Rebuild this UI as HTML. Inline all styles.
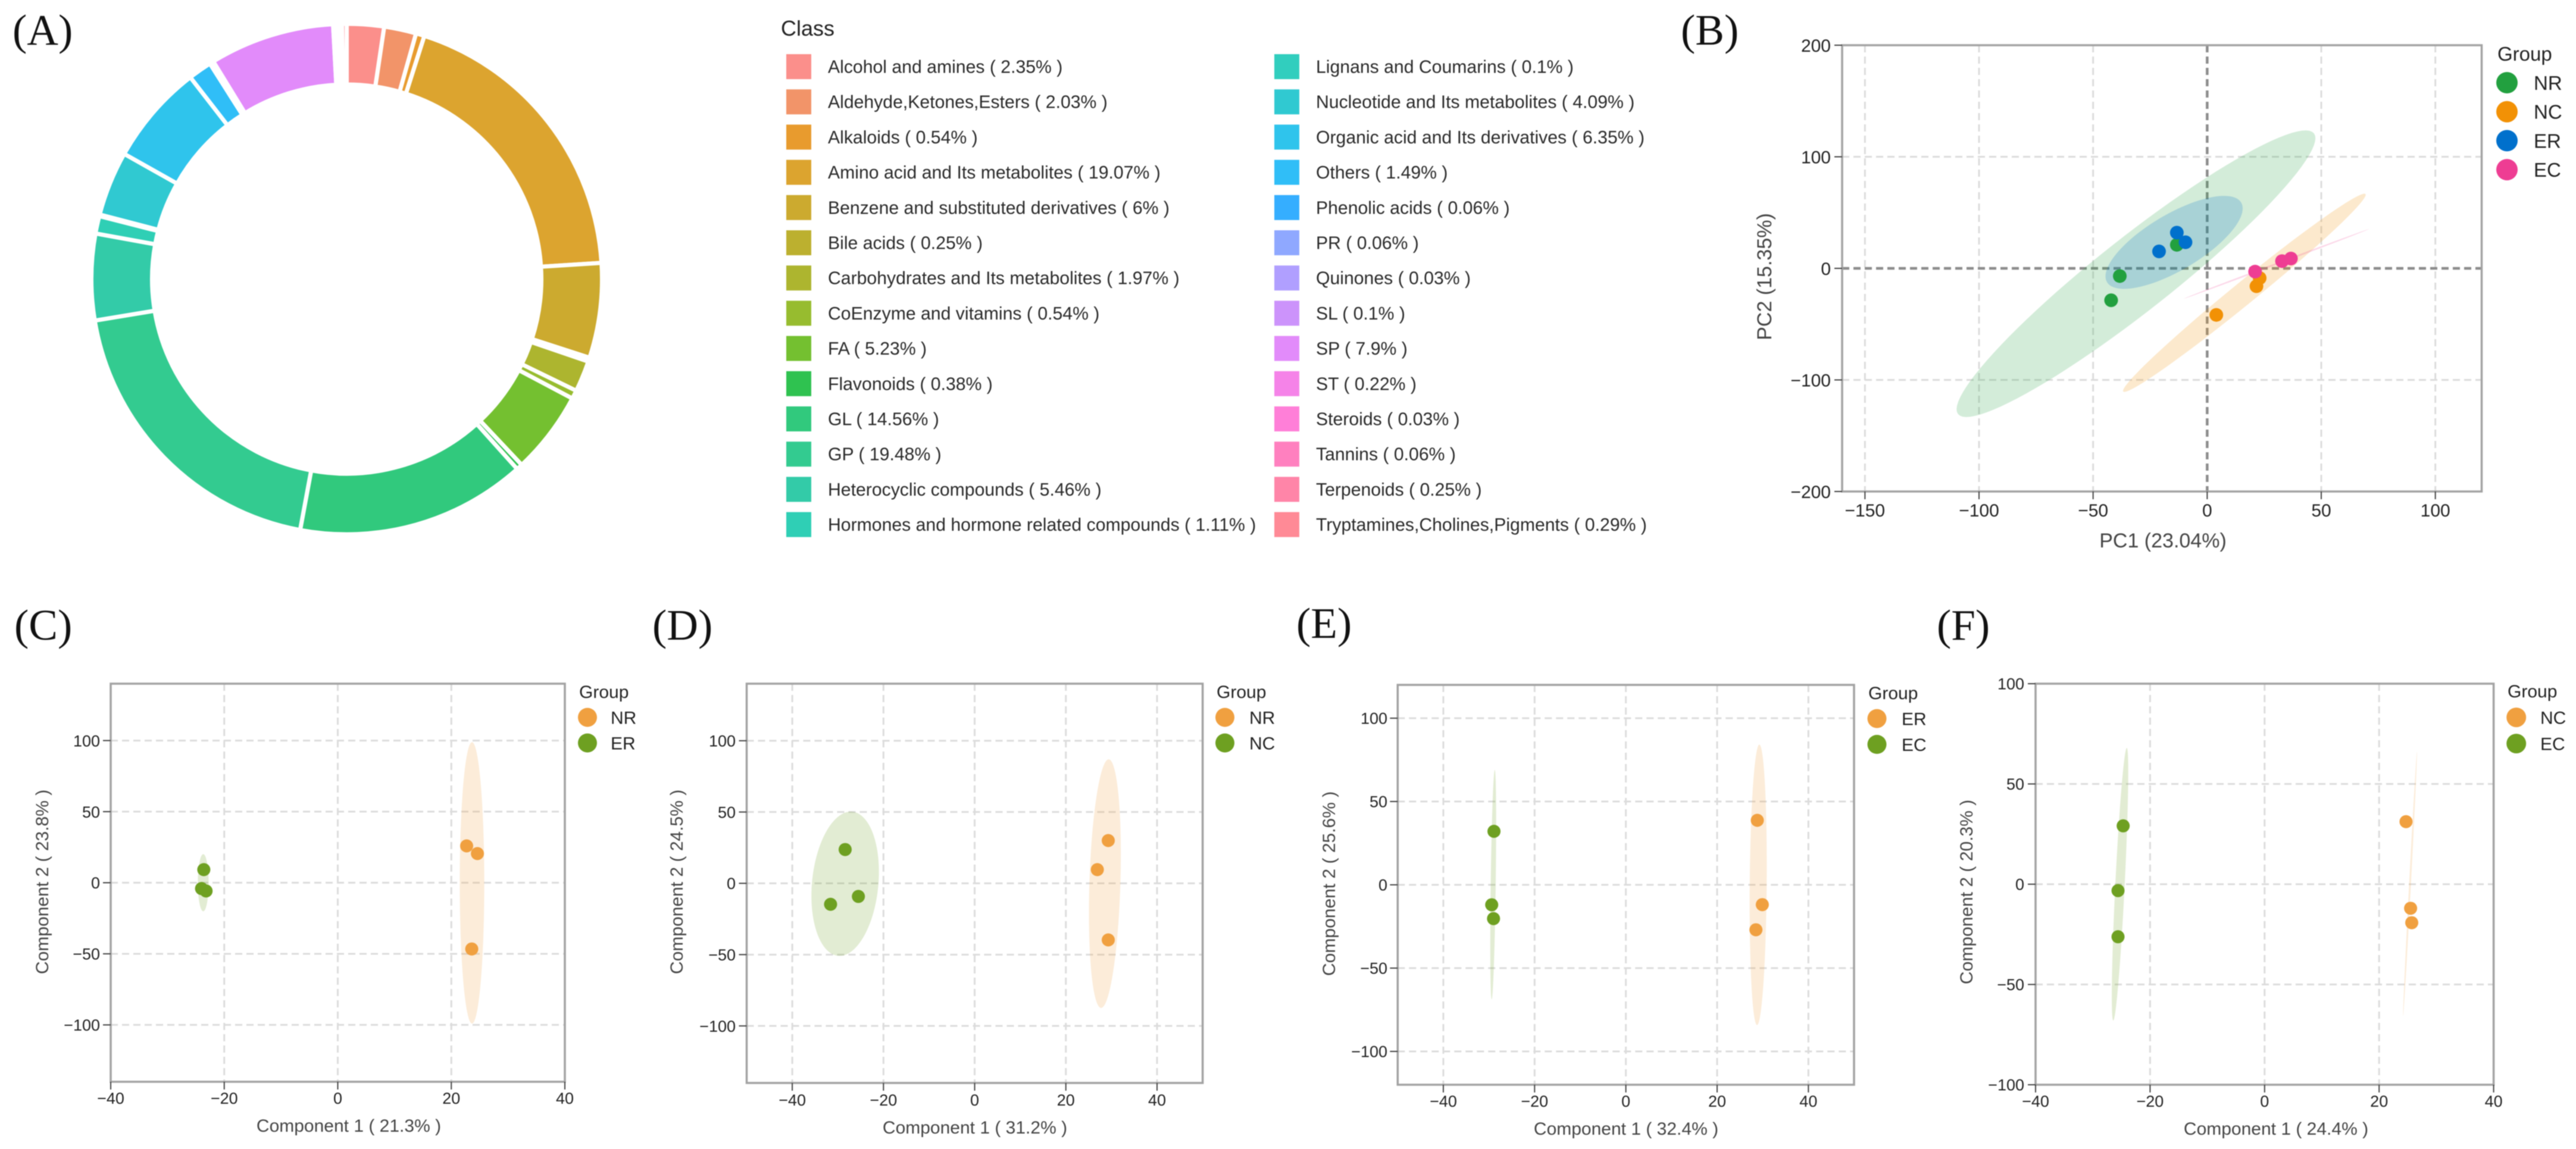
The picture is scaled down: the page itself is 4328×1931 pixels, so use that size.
<!DOCTYPE html>
<html lang="en">
<head>
<meta charset="utf-8">
<title>Metabolite class composition and PCA / PLS-DA score plots</title>
<style>
html,body{margin:0;padding:0;background:#fff;width:4328px;height:1931px;overflow:hidden}
svg{display:block;font-family:"Liberation Sans",Arial,sans-serif;filter:blur(0.8px)}
</style>
</head>
<body>
<svg id="fig" xmlns="http://www.w3.org/2000/svg" width="4328" height="1931" viewBox="0 0 4328 1931">
  <rect x="0" y="0" width="4328" height="1931" fill="#ffffff"/>
  <g font-family="'Liberation Serif',serif" font-size="73" fill="#111">
    <text x="21" y="75">(A)</text>
    <text x="2824" y="75">(B)</text>
    <text x="24" y="1075">(C)</text>
    <text x="1096" y="1075">(D)</text>
    <text x="2178" y="1072">(E)</text>
    <text x="3254" y="1075">(F)</text>
  </g>
</svg>
<script>
// ---------- Panel A data ----------
const classNames = ["Alcohol and amines","Aldehyde,Ketones,Esters","Alkaloids","Amino acid and Its metabolites","Benzene and substituted derivatives","Bile acids","Carbohydrates and Its metabolites","CoEnzyme and vitamins","FA","Flavonoids","GL","GP","Heterocyclic compounds","Hormones and hormone related compounds","Lignans and Coumarins","Nucleotide and Its metabolites","Organic acid and Its derivatives","Others","Phenolic acids","PR","Quinones","SL","SP","ST","Steroids","Tannins","Terpenoids","Tryptamines,Cholines,Pigments"];
const classPercents = [2.35,2.03,0.54,19.07,6,0.25,1.97,0.54,5.23,0.38,14.56,19.48,5.46,1.11,0.1,4.09,6.35,1.49,0.06,0.06,0.03,0.1,7.9,0.22,0.03,0.06,0.25,0.29];
const classPalette = ["#fb8f8b","#f29469","#e89b2e","#dca42f","#ccaa2f","#bcb02f","#adb52f","#97bc2f","#74c030","#2fc250","#31c97d","#33cb90","#33cba8","#2fcfb5","#31cebe","#30c9d1","#2fc4ec","#30bef7","#35aeff","#8fa8ff","#b09fff","#cc93fb","#e28bfa","#f583e8","#ff7fd8","#ff80bf","#ff85a8","#ff8a96"];

// ---------- Panel B data (PC1, PC2) ----------
const bXTicks = [-150,-100,-50,0,50,100];
const bYTicks = [-200,-100,0,100,200];
const bNRx = [-13.3,-38.3,-42.1];
const bNRy = [21.1,-6.9,-28.6];
const bNCx = [4,21.6,23];
const bNCy = [-41.7,-16,-8.7];
const bERx = [-13.3,-9.5,-21.1];
const bERy = [32,23.4,15.2];
const bECx = [21,32.8,36.7];
const bECy = [-2.9,6.5,8.8];
// ellipses: centre x, centre y, major-axis x, major-axis y, minor-axis x, minor-axis y (data units)
const bNREllipse = [-31.2,-4.8,78,125.8,10,-26];
const bNCEllipse = [16.3,-21.9,53.1,88.5,3.1,-7.8];
const bEREllipse = [-14.5,23.3,29.4,35.7,6.3,-21.5];
const bECEllipse = [30.3,4,40.6,31.2,0.13,-0.75];

// ---------- Panel C data ----------
const cXTicks = [-40,-20,0,20,40];
const cYTicks = [-100,-50,0,50,100];
const cNRx = [22.7,24.6,23.6];
const cNRy = [25.9,20.5,-46.6];
const cERx = [-23.6,-24,-23.2];
const cERy = [9.2,-4.1,-5.8];
const cNREllipse = [23.65,-0.1,0,99,2.16,0];
const cEREllipse = [-23.7,0,0,20.1,0.95,0];

// ---------- Panel D data ----------
const dXTicks = [-40,-20,0,20,40];
const dYTicks = [-100,-50,0,50,100];
const dNRx = [29.3,26.9,29.3];
const dNRy = [30,9.6,-39.7];
const dNCx = [-28.4,-25.5,-31.6];
const dNCy = [23.7,-9.2,-14.7];
const dNREllipse = [28.56,-0.2,0.83,87.2,3.4,0];
const dNCEllipse = [-28.4,-0.3,1.23,50.6,7.3,0];

// ---------- Panel E data ----------
const eXTicks = [-40,-20,0,20,40];
const eYTicks = [-100,-50,0,50,100];
const eERx = [28.8,29.9,28.5];
const eERy = [38.7,-11.9,-27];
const eECx = [-28.9,-29.4,-29];
const eECy = [32.1,-12,-20.3];
const eEREllipse = [29,0,0.25,84.2,1.86,0];
const eECEllipse = [-29.07,0.1,0.34,68.9,0.55,0];

// ---------- Panel F data ----------
const fXTicks = [-40,-20,0,20,40];
const fYTicks = [-100,-50,0,50,100];
const fNCx = [24.7,25.5,25.7];
const fNCy = [31.2,-12,-19.2];
const fECx = [-24.7,-25.6,-25.6];
const fECy = [29.1,-3.2,-26.2];
const fNCEllipse = [25.4,0.15,1.21,65.9,0.16,0];
const fECEllipse = [-25.25,0,1.18,68,0.82,0];

// ---------- Drawing ----------
const svg = document.getElementById('fig');
const NS = 'http://www.w3.org/2000/svg';
function make(parent, tag, attrs, text) {
  const el = document.createElementNS(NS, tag);
  for (const k in attrs) el.setAttribute(k, attrs[k]);
  if (text !== undefined) el.textContent = text;
  parent.appendChild(el);
  return el;
}
const fmt = v => String(v).replace('-', '\u2212');

function drawDonut() {
  const cx = 582.5, cy = 469, rOut = 429, rIn = 327;
  const total = classPercents.reduce((a, b) => a + b, 0);
  const g = make(svg, 'g', {});
  
  
  let acc = 0;
  classPercents.forEach((v, i) => {
    const a0 = acc / total * 2 * Math.PI;
    acc += v;
    const a1 = acc / total * 2 * Math.PI;
    const large = (a1 - a0) > Math.PI ? 1 : 0;
    const p = (r, a) => (cx + r * Math.sin(a)).toFixed(2) + ' ' + (cy - r * Math.cos(a)).toFixed(2);
    const d = 'M' + p(rOut, a0) + 'A' + rOut + ' ' + rOut + ' 0 ' + large + ' 1 ' + p(rOut, a1) +
              'L' + p(rIn, a1) + 'A' + rIn + ' ' + rIn + ' 0 ' + large + ' 0 ' + p(rIn, a0) + 'Z';
    const seg = make(g, 'path', {d: d, fill: classPalette[i], stroke: '#fff', 'stroke-width': 7});
    
    
  });
}

function drawClassLegend() {
  const g = make(svg, 'g', {});
  
  
  const title = make(g, 'text', {x: 1312, y: 60, 'font-size': 36, fill: '#222'}, 'Class');
  
  
  classNames.forEach((name, i) => {
    const col = i < 14 ? 0 : 1;
    const row = i % 14;
    const sx = col ? 2141 : 1321;
    const tx = col ? 2211 : 1391;
    const y = 91 + row * 59.2;
    const sw = make(g, 'rect', {x: sx, y: y, width: 42, height: 42, fill: classPalette[i]});
    
    
    const t = make(g, 'text', {x: tx, y: y + 31.5, 'font-size': 30.2, fill: '#2a2a2a'}, name + ' ( ' + classPercents[i] + '% )');
    
    
  });
}

function drawPanel(cfg) {
  const g = make(svg, 'g', {});
  
  
  const b = cfg.box;
  const X = v => b.l + (v - cfg.xDom[0]) / (cfg.xDom[1] - cfg.xDom[0]) * (b.r - b.l);
  const Y = v => b.b - (v - cfg.yDom[0]) / (cfg.yDom[1] - cfg.yDom[0]) * (b.b - b.t);

  // grid
  cfg.xTicks.forEach(v => {
    if (X(v) <= b.l + 1 || X(v) >= b.r - 1) return;
    const zero = cfg.zeroLines && v === 0;
    const l = make(g, 'line', {x1: X(v), x2: X(v), y1: b.t, y2: b.b, stroke: zero ? '#8c8c8c' : '#dcdcdc', 'stroke-width': zero ? 4.5 : 3, 'stroke-dasharray': '12 7'});
    
    
  });
  cfg.yTicks.forEach(v => {
    if (Y(v) <= b.t + 1 || Y(v) >= b.b - 1) return;
    const zero = cfg.zeroLines && v === 0;
    const l = make(g, 'line', {x1: b.l, x2: b.r, y1: Y(v), y2: Y(v), stroke: zero ? '#8c8c8c' : '#dcdcdc', 'stroke-width': zero ? 4.5 : 3, 'stroke-dasharray': '12 7'});
    
    
  });

  // ellipses
  cfg.series.forEach(s => {
    const e = s.ellipse;
    let d = '';
    for (let i = 0; i < 96; i++) {
      const t = i / 96 * 2 * Math.PI;
      const ex = e[0] + e[2] * Math.cos(t) + e[4] * Math.sin(t);
      const ey = e[1] + e[3] * Math.cos(t) + e[5] * Math.sin(t);
      d += (i ? 'L' : 'M') + X(ex).toFixed(2) + ' ' + Y(ey).toFixed(2);
    }
    const el = make(g, 'path', {d: d + 'Z', fill: s.color, 'fill-opacity': cfg.ellipseOpacity});
    
    
  });

  // points
  cfg.series.forEach(s => {
    s.x.forEach((vx, i) => {
      const c = make(g, 'circle', {cx: X(vx), cy: Y(s.y[i]), r: cfg.pointR, fill: s.color});
      
      
    });
  });

  // frame
  const fr = make(g, 'rect', {x: b.l, y: b.t, width: b.r - b.l, height: b.b - b.t, fill: 'none', stroke: '#a2a2a2', 'stroke-width': 3.5});
  
  

  // ticks + labels
  cfg.xTicks.forEach(v => {
    const tk = make(g, 'line', {x1: X(v), x2: X(v), y1: b.b, y2: b.b + 13, stroke: '#444', 'stroke-width': 2});
    
    
    const t = make(g, 'text', {x: X(v), y: cfg.xLabelY, 'font-size': cfg.tickSize, 'text-anchor': 'middle', fill: '#222'}, fmt(v));
    
    
  });
  cfg.yTicks.forEach(v => {
    const tk = make(g, 'line', {x1: b.l - 13, x2: b.l, y1: Y(v), y2: Y(v), stroke: '#444', 'stroke-width': 2});
    
    
    const t = make(g, 'text', {x: cfg.yLabelX, y: Y(v) + cfg.tickSize * 0.36, 'font-size': cfg.tickSize, 'text-anchor': 'end', fill: '#222'}, fmt(v));
    
    
  });

  // axis titles
  const xt = make(g, 'text', {x: cfg.xTitle[1], y: cfg.xTitle[2], 'font-size': cfg.titleSize, 'text-anchor': 'middle', fill: '#444'}, cfg.xTitle[0]);
  
  
  const yt = make(g, 'text', {x: 0, y: 0, 'font-size': cfg.titleSize, 'text-anchor': 'middle', fill: '#444', transform: 'translate(' + cfg.yTitle[1] + ' ' + cfg.yTitle[2] + ') rotate(-90)'}, cfg.yTitle[0]);
  
  

  // legend
  const lg = make(g, 'g', {});
  
  
  const L = cfg.legend;
  const lt = make(lg, 'text', {x: L.titleX, y: L.titleY, 'font-size': L.size, fill: '#222'}, 'Group');
  
  
  cfg.series.forEach((s, i) => {
    const y = L.y0 + i * L.step;
    const c = make(lg, 'circle', {cx: L.dotX, cy: y, r: L.r, fill: s.color});
    
    
    const t = make(lg, 'text', {x: L.textX, y: y + L.size * 0.36, 'font-size': L.size, fill: '#222'}, s.label);
    
    
  });
}

drawDonut();
drawClassLegend();

const ORANGE = '#f0a040', GREEN = '#6ea021';

drawPanel({
  name: 'pca-score-plot-b', box: {l: 3095, r: 4169.5, t: 76, b: 826}, xDom: [-160, 120.3], yDom: [-200, 200],
  xTicks: bXTicks, yTicks: bYTicks, zeroLines: true, ellipseOpacity: 0.2, pointR: 11.5,
  xLabelY: 868, yLabelX: 3076, tickSize: 30, titleSize: 34,
  xTitle: ['PC1 (23.04%)', 3634, 920], yTitle: ['PC2 (15.35%)', 2976, 465],
  legend: {titleX: 4196, titleY: 102, size: 33, dotX: 4212, textX: 4257, y0: 139, step: 48.7, r: 18},
  series: [
    {label: 'NR', color: '#22a03f', x: bNRx, y: bNRy, ellipse: bNREllipse},
    {label: 'NC', color: '#f29105', x: bNCx, y: bNCy, ellipse: bNCEllipse},
    {label: 'ER', color: '#0070cc', x: bERx, y: bERy, ellipse: bEREllipse},
    {label: 'EC', color: '#ee3d93', x: bECx, y: bECy, ellipse: bECEllipse}
  ]
});

drawPanel({
  name: 'score-plot-c', box: {l: 186, r: 949, t: 1149, b: 1818}, xDom: [-40, 40], yDom: [-140, 140],
  xTicks: cXTicks, yTicks: cYTicks, ellipseOpacity: 0.2, pointR: 11,
  xLabelY: 1855, yLabelX: 168, tickSize: 27, titleSize: 30,
  xTitle: ['Component 1 ( 21.3% )', 586, 1902], yTitle: ['Component 2 ( 23.8% )', 81, 1482],
  legend: {titleX: 973, titleY: 1173, size: 30, dotX: 987, textX: 1026, y0: 1205.6, step: 43, r: 16},
  series: [
    {label: 'NR', color: ORANGE, x: cNRx, y: cNRy, ellipse: cNREllipse},
    {label: 'ER', color: GREEN, x: cERx, y: cERy, ellipse: cEREllipse}
  ]
});

drawPanel({
  name: 'score-plot-d', box: {l: 1254.5, r: 2020.6, t: 1149, b: 1820}, xDom: [-50, 50], yDom: [-140, 140],
  xTicks: dXTicks, yTicks: dYTicks, ellipseOpacity: 0.2, pointR: 11,
  xLabelY: 1858, yLabelX: 1236, tickSize: 27, titleSize: 30,
  xTitle: ['Component 1 ( 31.2% )', 1638, 1905], yTitle: ['Component 2 ( 24.5% )', 1147, 1482],
  legend: {titleX: 2044, titleY: 1173, size: 30, dotX: 2058, textX: 2099, y0: 1205.6, step: 43, r: 16},
  series: [
    {label: 'NR', color: ORANGE, x: dNRx, y: dNRy, ellipse: dNREllipse},
    {label: 'NC', color: GREEN, x: dNCx, y: dNCy, ellipse: dNCEllipse}
  ]
});

drawPanel({
  name: 'score-plot-e', box: {l: 2348.3, r: 3115, t: 1151, b: 1823}, xDom: [-50, 50], yDom: [-120, 120],
  xTicks: eXTicks, yTicks: eYTicks, ellipseOpacity: 0.2, pointR: 11,
  xLabelY: 1860, yLabelX: 2331, tickSize: 27, titleSize: 30,
  xTitle: ['Component 1 ( 32.4% )', 2732, 1907], yTitle: ['Component 2 ( 25.6% )', 2243, 1485],
  legend: {titleX: 3139, titleY: 1175, size: 30, dotX: 3153.5, textX: 3195, y0: 1207.6, step: 43.4, r: 16},
  series: [
    {label: 'ER', color: ORANGE, x: eERx, y: eERy, ellipse: eEREllipse},
    {label: 'EC', color: GREEN, x: eECx, y: eECy, ellipse: eECEllipse}
  ]
});

drawPanel({
  name: 'score-plot-f', box: {l: 3420, r: 4189.6, t: 1149, b: 1823}, xDom: [-40, 40], yDom: [-100, 100],
  xTicks: fXTicks, yTicks: fYTicks, ellipseOpacity: 0.2, pointR: 11,
  xLabelY: 1860, yLabelX: 3401, tickSize: 27, titleSize: 30,
  xTitle: ['Component 1 ( 24.4% )', 3824, 1907], yTitle: ['Component 2 ( 20.3% )', 3314, 1499],
  legend: {titleX: 4213, titleY: 1172, size: 30, dotX: 4227.7, textX: 4268, y0: 1205.6, step: 44, r: 16.5},
  series: [
    {label: 'NC', color: ORANGE, x: fNCx, y: fNCy, ellipse: fNCEllipse},
    {label: 'EC', color: GREEN, x: fECx, y: fECy, ellipse: fECEllipse}
  ]
});
</script>
</body>
</html>
